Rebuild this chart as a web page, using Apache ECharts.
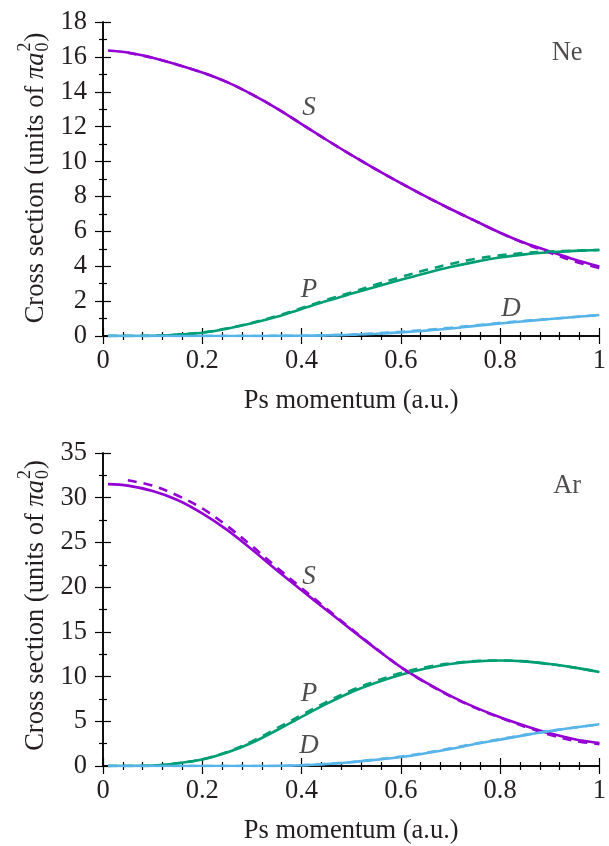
<!DOCTYPE html>
<html>
<head>
<meta charset="utf-8">
<script src="https://cdn.jsdelivr.net/npm/echarts@6/dist/echarts.min.js"></script>
<style>
html,body{margin:0;padding:0;background:#fff;}
#c{width:609px;height:846px;}
</style>
</head>
<body>
<div id="c"></div>
<script>
// ---------- data ----------
const momentum = [0.01,0.05,0.1,0.15,0.2,0.25,0.3,0.35,0.4,0.45,0.5,0.55,0.6,0.65,0.7,0.75,0.8,0.85,0.9,0.95,1.0];

// Ne
const neS_solid  = [16.37,16.25,15.95,15.55,15.1,14.55,13.85,13.05,12.15,11.25,10.38,9.55,8.76,8.0,7.28,6.6,5.92,5.33,4.85,4.38,3.98];
const neS_dashed = [null,16.24,15.94,15.55,15.1,14.55,13.85,13.05,12.15,11.25,10.38,9.55,8.76,8.0,7.28,6.6,5.92,5.3,4.78,4.28,3.9];
const neP_solid  = [0,0,0.01,0.08,0.19,0.42,0.73,1.1,1.55,2.0,2.42,2.83,3.22,3.6,3.95,4.25,4.5,4.68,4.8,4.88,4.93];
const neP_dashed = [0,0,0.01,0.08,0.2,0.44,0.76,1.14,1.6,2.07,2.5,2.95,3.38,3.78,4.13,4.42,4.62,4.76,4.84,4.89,4.93];
const neD_solid  = [0,0,0,0,0,0,0,0.005,0.015,0.035,0.07,0.13,0.21,0.31,0.43,0.58,0.72,0.85,0.97,1.09,1.2];
const neD_dashed = [0,0,0,0,0,0,0,0.005,0.017,0.04,0.08,0.15,0.24,0.35,0.47,0.61,0.75,0.87,0.98,1.09,1.2];

// Ar
const arS_solid  = [31.52,31.35,30.75,29.75,28.25,26.4,24.2,21.9,19.65,17.45,15.25,13.1,11.05,9.35,7.85,6.55,5.45,4.5,3.65,3.0,2.56];
const arS_dashed = [null,31.95,31.35,30.25,28.8,26.85,24.6,22.2,19.9,17.6,15.35,13.15,11.05,9.3,7.8,6.5,5.4,4.4,3.5,2.82,2.45];
const arP_solid  = [0,0,0.04,0.3,0.72,1.5,2.6,4.0,5.5,6.95,8.25,9.3,10.2,10.9,11.4,11.7,11.8,11.7,11.4,11.0,10.52];
const arP_dashed = [0,0,0.04,0.31,0.76,1.58,2.75,4.2,5.7,7.15,8.45,9.5,10.4,11.05,11.48,11.73,11.8,11.7,11.4,11.0,10.52];
const arD_solid  = [0,0,0,0,0,0,0,0.01,0.08,0.22,0.42,0.7,1.0,1.42,1.9,2.45,2.95,3.45,3.9,4.3,4.67];
const arD_dashed = [0,0,0,0,0,0,0,0.01,0.09,0.24,0.45,0.74,1.05,1.48,1.97,2.5,3.0,3.48,3.92,4.3,4.65];

// labels
const panelNames = ['Ne','Ar'];
const neAnnot = [[0.415,13.1,'S'],[0.415,2.64,'P'],[0.822,1.55,'D']];
const arAnnot = [[0.415,21.2,'S'],[0.415,8.1,'P'],[0.415,2.2,'D']];
const panelLabelPos = [[0.935,16.2],[0.935,31.3]];
const xTicks = {min:0,max:1,interval:0.2};
const yNe = {min:0,max:18,interval:2,minor:2};
const yAr = {min:0,max:35,interval:5,minor:2};
const xTitle = 'Ps momentum (a.u.)';

// ---------- style ----------
const FONT = '"Liberation Serif", "Times New Roman", Times, serif';
const TXT = '#231f20';
const FS = 26.5;
const C_S = '#9400D3', C_P = '#009E73', C_D = '#56B4E9';
const grids = [
  {left:103, right:5, top:22, height:314},
  {left:103, right:5, top:453, height:315}
];

function pairs(ys){ return momentum.map((x,i)=> ys[i]==null ? null : [x, ys[i]]).filter(d=>d); }

const xAxes = [], yAxes = [];
const axLine = {show:true, lineStyle:{color:'#000', width:1.5}};
grids.forEach((g,i)=>{
  const y = i===0 ? yNe : yAr;
  const base = {
    type:'value', gridIndex:i, min:xTicks.min, max:xTicks.max, interval:xTicks.interval,
    axisLine:axLine, splitLine:{show:false},
    axisTick:{show:true, inside:true, length:8, lineStyle:{color:'#000',width:1.2}},
    minorTick:{show:true, splitNumber:5, length:4, lineStyle:{color:'#000',width:1.2}},
    minorSplitLine:{show:false}
  };
  xAxes.push(Object.assign({}, base, {
    position:'bottom',
    axisLabel:{show:true, margin:12, fontFamily:FONT, fontSize:FS, color:TXT,
      formatter:v=> (v===0||v===1)? String(v) : v.toFixed(1)},
    name:xTitle, nameLocation:'middle', nameGap:52,
    nameTextStyle:{fontFamily:FONT, fontSize:FS, color:TXT}
  }));
  xAxes.push(Object.assign({}, base, {position:'top', axisLabel:{show:false}}));
  const ybase = {
    type:'value', gridIndex:i, min:y.min, max:y.max, interval:y.interval,
    axisLine:axLine, splitLine:{show:false},
    axisTick:{show:true, inside:true, length:8, lineStyle:{color:'#000',width:1.2}},
    minorTick:{show:true, splitNumber:y.minor, length:4, lineStyle:{color:'#000',width:1.2}},
    minorSplitLine:{show:false}
  };
  yAxes.push(Object.assign({}, ybase, {position:'left',
    axisLabel:{show:true, margin:16, fontFamily:FONT, fontSize:FS, color:TXT}}));
  yAxes.push(Object.assign({}, ybase, {position:'right', axisLabel:{show:false}}));
});

const series = [];
function addLine(i, ys, color, dashed){
  series.push({
    type:'line', xAxisIndex:i*2, yAxisIndex:i*2, data:pairs(ys), smooth:0.35,
    showSymbol:false, symbol:'none', silent:true, clip:true,
    lineStyle:{color:color, width:2.6, type: dashed ? [9,7] : 'solid'},
    z: dashed ? 3 : 2
  });
}
[[neS_solid,neS_dashed,C_S],[neP_solid,neP_dashed,C_P],[neD_solid,neD_dashed,C_D]].forEach(a=>{
  addLine(0,a[0],a[2],false); addLine(0,a[1],a[2],true);
});
[[arS_solid,arS_dashed,C_S],[arP_solid,arP_dashed,C_P],[arD_solid,arD_dashed,C_D]].forEach(a=>{
  addLine(1,a[0],a[2],false); addLine(1,a[1],a[2],true);
});
function addText(i, data, italic, size){
  series.push({
    type:'scatter', xAxisIndex:i*2, yAxisIndex:i*2, data:data, symbolSize:1, silent:true,
    itemStyle:{color:'rgba(0,0,0,0)'}, z:5,
    label:{show:true, position:'inside', formatter:p=>p.data[2],
      fontFamily:FONT, fontSize:size, fontStyle: italic?'italic':'normal', color:TXT}
  });
}
addText(0, neAnnot, true, 27);
addText(1, arAnnot, true, 27);
addText(0, [[panelLabelPos[0][0],panelLabelPos[0][1],panelNames[0]]], false, 26.5);
addText(1, [[panelLabelPos[1][0],panelLabelPos[1][1],panelNames[1]]], false, 26.5);

// ---------- rotated y title with stacked sub/superscript ----------
const cv = document.createElement('canvas').getContext('2d');
function meas(t, font){ cv.font = font; return cv.measureText(t).width; }
const F_MAIN = FS+'px ' + FONT, F_IT = 'italic '+FS+'px ' + FONT, F_SM = '18px ' + FONT;
function yTitle(cx, cy){
  const t1 = 'Cross section (units of ', t2 = '\u03c0a', t3 = ')';
  const w1 = meas(t1,F_MAIN), w2 = meas(t2,F_IT)+1, ws = meas('2',F_SM)+1, w3 = meas(t3,F_MAIN);
  const W = w1+w2+ws+w3;
  let x0 = -W/2;
  const st = (text,font)=>({text:text, font:font, fill:TXT, align:'left', verticalAlign:'middle'});
  const ch = [];
  ch.push({type:'text', x:x0, y:0, style:st(t1,F_MAIN)}); x0 += w1;
  ch.push({type:'text', x:x0, y:0, style:st(t2,F_IT)}); x0 += w2;
  ch.push({type:'text', x:x0, y:7, style:st('0',F_SM)});
  ch.push({type:'text', x:x0, y:-11, style:st('2',F_SM)}); x0 += ws;
  ch.push({type:'text', x:x0, y:0, style:st(t3,F_MAIN)});
  return {type:'group', x:cx, y:cy, rotation:Math.PI/2, silent:true, children:ch};
}

const chart = echarts.init(document.getElementById('c'), null, {renderer:'canvas'});
chart.setOption({
  backgroundColor:'#fff',
  animation:false,
  grid: grids,
  xAxis: xAxes,
  yAxis: yAxes,
  series: series,
  graphic: [ yTitle(36, grids[0].top + grids[0].height/2 - 1), yTitle(36, grids[1].top + grids[1].height/2 - 5) ]
});
</script>
</body>
</html>
